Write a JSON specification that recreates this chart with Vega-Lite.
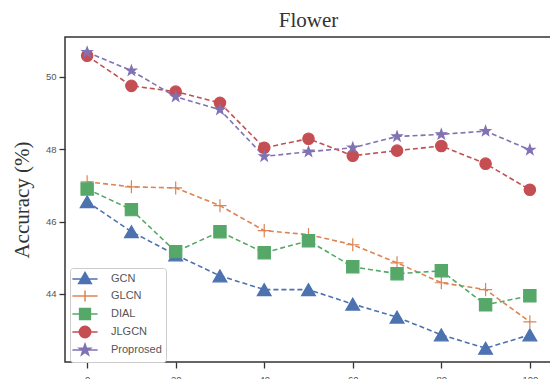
{
  "$schema": "https://vega.github.io/schema/vega-lite/v6.json",
  "autosize": "none",
  "width": 487,
  "height": 325,
  "padding": {"left": 65, "top": 37, "right": 0, "bottom": 17},
  "background": "white",
  "title": {"text": "Flower", "font": "Liberation Serif", "fontSize": 21, "fontWeight": "normal", "color": "#333", "offset": 6, "anchor": "middle"},
  "config": {
    "view": {"stroke": "#333", "strokeWidth": 1.5},
    "axis": {"grid": false, "domain": false, "tickColor": "#333", "tickSize": 6, "tickWidth": 1.3, "labelFont": "Liberation Sans", "labelFontSize": 9.5, "labelColor": "#555", "labelPadding": 3},
    "legend": {"title": null, "orient": "none", "legendX": 5, "legendY": 231, "padding": 4, "strokeColor": "#ccc", "fillColor": "white", "cornerRadius": 3, "labelFont": "Liberation Sans", "labelFontSize": 11, "labelColor": "#555", "symbolSize": 144, "symbolStrokeWidth": 1.5, "rowPadding": 0, "labelOffset": 19, "symbolOffset": 4, "symbolOpacity": 1, "symbolFillColor": "white", "symbolStrokeColor": "white"}
  },
  "datasets": {"acc": [
    {"x": 0, "method": "GCN", "acc": 46.55}, {"x": 10, "method": "GCN", "acc": 45.72}, {"x": 20, "method": "GCN", "acc": 45.08}, {"x": 30, "method": "GCN", "acc": 44.5}, {"x": 40, "method": "GCN", "acc": 44.12}, {"x": 50, "method": "GCN", "acc": 44.12}, {"x": 60, "method": "GCN", "acc": 43.72}, {"x": 70, "method": "GCN", "acc": 43.36}, {"x": 80, "method": "GCN", "acc": 42.87}, {"x": 90, "method": "GCN", "acc": 42.5}, {"x": 100, "method": "GCN", "acc": 42.87},
    {"x": 0, "method": "GLCN", "acc": 47.1}, {"x": 10, "method": "GLCN", "acc": 46.96}, {"x": 20, "method": "GLCN", "acc": 46.93}, {"x": 30, "method": "GLCN", "acc": 46.44}, {"x": 40, "method": "GLCN", "acc": 45.75}, {"x": 50, "method": "GLCN", "acc": 45.64}, {"x": 60, "method": "GLCN", "acc": 45.36}, {"x": 70, "method": "GLCN", "acc": 44.86}, {"x": 80, "method": "GLCN", "acc": 44.31}, {"x": 90, "method": "GLCN", "acc": 44.12}, {"x": 100, "method": "GLCN", "acc": 43.23},
    {"x": 0, "method": "DIAL", "acc": 46.9}, {"x": 10, "method": "DIAL", "acc": 46.33}, {"x": 20, "method": "DIAL", "acc": 45.17}, {"x": 30, "method": "DIAL", "acc": 45.72}, {"x": 40, "method": "DIAL", "acc": 45.14}, {"x": 50, "method": "DIAL", "acc": 45.47}, {"x": 60, "method": "DIAL", "acc": 44.75}, {"x": 70, "method": "DIAL", "acc": 44.56}, {"x": 80, "method": "DIAL", "acc": 44.64}, {"x": 90, "method": "DIAL", "acc": 43.7}, {"x": 100, "method": "DIAL", "acc": 43.95},
    {"x": 0, "method": "JLGCN", "acc": 50.58}, {"x": 10, "method": "JLGCN", "acc": 49.75}, {"x": 20, "method": "JLGCN", "acc": 49.59}, {"x": 30, "method": "JLGCN", "acc": 49.28}, {"x": 40, "method": "JLGCN", "acc": 48.04}, {"x": 50, "method": "JLGCN", "acc": 48.29}, {"x": 60, "method": "JLGCN", "acc": 47.82}, {"x": 70, "method": "JLGCN", "acc": 47.96}, {"x": 80, "method": "JLGCN", "acc": 48.09}, {"x": 90, "method": "JLGCN", "acc": 47.6}, {"x": 100, "method": "JLGCN", "acc": 46.88},
    {"x": 0, "method": "Proprosed", "acc": 50.68}, {"x": 10, "method": "Proprosed", "acc": 50.17}, {"x": 20, "method": "Proprosed", "acc": 49.45}, {"x": 30, "method": "Proprosed", "acc": 49.09}, {"x": 40, "method": "Proprosed", "acc": 47.8}, {"x": 50, "method": "Proprosed", "acc": 47.93}, {"x": 60, "method": "Proprosed", "acc": 48.04}, {"x": 70, "method": "Proprosed", "acc": 48.35}, {"x": 80, "method": "Proprosed", "acc": 48.41}, {"x": 90, "method": "Proprosed", "acc": 48.5}, {"x": 100, "method": "Proprosed", "acc": 47.98}
  ]},
  "data": {"name": "acc"},
  "encoding": {
    "x": {"field": "x", "type": "quantitative", "scale": {"domain": [-5, 105], "nice": false, "zero": false}, "axis": {"values": [0, 20, 40, 60, 80, 100], "title": null, "labelPadding": 6}},
    "y": {"field": "acc", "type": "quantitative", "scale": {"domain": [42.12, 51.1], "nice": false, "zero": false}, "axis": {"values": [44, 46, 48, 50], "title": "Accuracy (%)", "titleFont": "Liberation Serif", "titleFontSize": 21, "titleFontWeight": "normal", "titleColor": "#333", "titlePadding": 13}}
  },
  "layer": [
    {
      "mark": {"type": "line", "strokeDash": [5, 3], "strokeWidth": 1.6},
      "encoding": {"stroke": {"field": "method", "type": "nominal", "legend": null, "scale": {"domain": ["GCN", "GLCN", "DIAL", "JLGCN", "Proprosed"], "range": ["#4C72B0", "#DD8452", "#55A868", "#C44E52", "#8172B3"]}}}
    },
    {
      "mark": {"type": "point", "filled": true, "opacity": 1, "strokeWidth": 1.2},
      "encoding": {
        "shape": {"field": "method", "type": "nominal", "scale": {"domain": ["GCN", "GLCN", "DIAL", "JLGCN", "Proprosed"], "range": ["triangle-up", "M0,-1V1M-1,0H1", "square", "circle", "M0,-1L0.235,-0.324L0.951,-0.309L0.38,0.124L0.588,0.809L0,0.4L-0.588,0.809L-0.38,0.124L-0.951,-0.309L-0.235,-0.324Z"]}, "legend": null},
        "size": {"field": "method", "type": "nominal", "scale": {"domain": ["GCN", "GLCN", "DIAL", "JLGCN", "Proprosed"], "range": [190, 110, 175, 180, 220]}, "legend": null},
        "stroke": {"field": "method", "type": "nominal", "legend": null, "scale": {"domain": ["GCN", "GLCN", "DIAL", "JLGCN", "Proprosed"], "range": ["#4C72B0", "#DD8452", "#55A868", "#C44E52", "#8172B3"]}},
        "color": {"field": "method", "type": "nominal", "legend": null, "scale": {"domain": ["GCN", "GLCN", "DIAL", "JLGCN", "Proprosed"], "range": ["#4C72B0", "#DD8452", "#55A868", "#C44E52", "#8172B3"]}}
      }
    },
    {
      "mark": {"type": "point", "filled": true, "opacity": 0, "strokeWidth": 1.5},
      "encoding": {
        "shape": {"field": "method", "type": "nominal", "scale": {"domain": ["GCN", "GLCN", "DIAL", "JLGCN", "Proprosed"], "range": ["M-2.1,0H2.1M0,-1.1L1.05,0.75L-1.05,0.75Z", "M-2.1,0H2.1M0,-0.9V0.9M-0.9,0H0.9", "M-2.1,0H2.1M-0.9,-0.9H0.9V0.9H-0.9Z", "M-2.1,0H2.1M-0.95,0A0.95,0.95,0,1,0,0.95,0A0.95,0.95,0,1,0,-0.95,0Z", "M-2.1,0H2.1M0,-1L0.235,-0.324L0.951,-0.309L0.38,0.124L0.588,0.809L0,0.4L-0.588,0.809L-0.38,0.124L-0.951,-0.309L-0.235,-0.324Z"]}},
        "fill": {"field": "method", "type": "nominal", "scale": {"domain": ["GCN", "GLCN", "DIAL", "JLGCN", "Proprosed"], "range": ["#4C72B0", "#DD8452", "#55A868", "#C44E52", "#8172B3"]}},
        "stroke": {"field": "method", "type": "nominal", "scale": {"domain": ["GCN", "GLCN", "DIAL", "JLGCN", "Proprosed"], "range": ["#4C72B0", "#DD8452", "#55A868", "#C44E52", "#8172B3"]}}
      }
    }
  ],
  "resolve": {"scale": {"shape": "independent", "stroke": "independent", "size": "independent", "color": "independent", "fill": "independent"}}
}
